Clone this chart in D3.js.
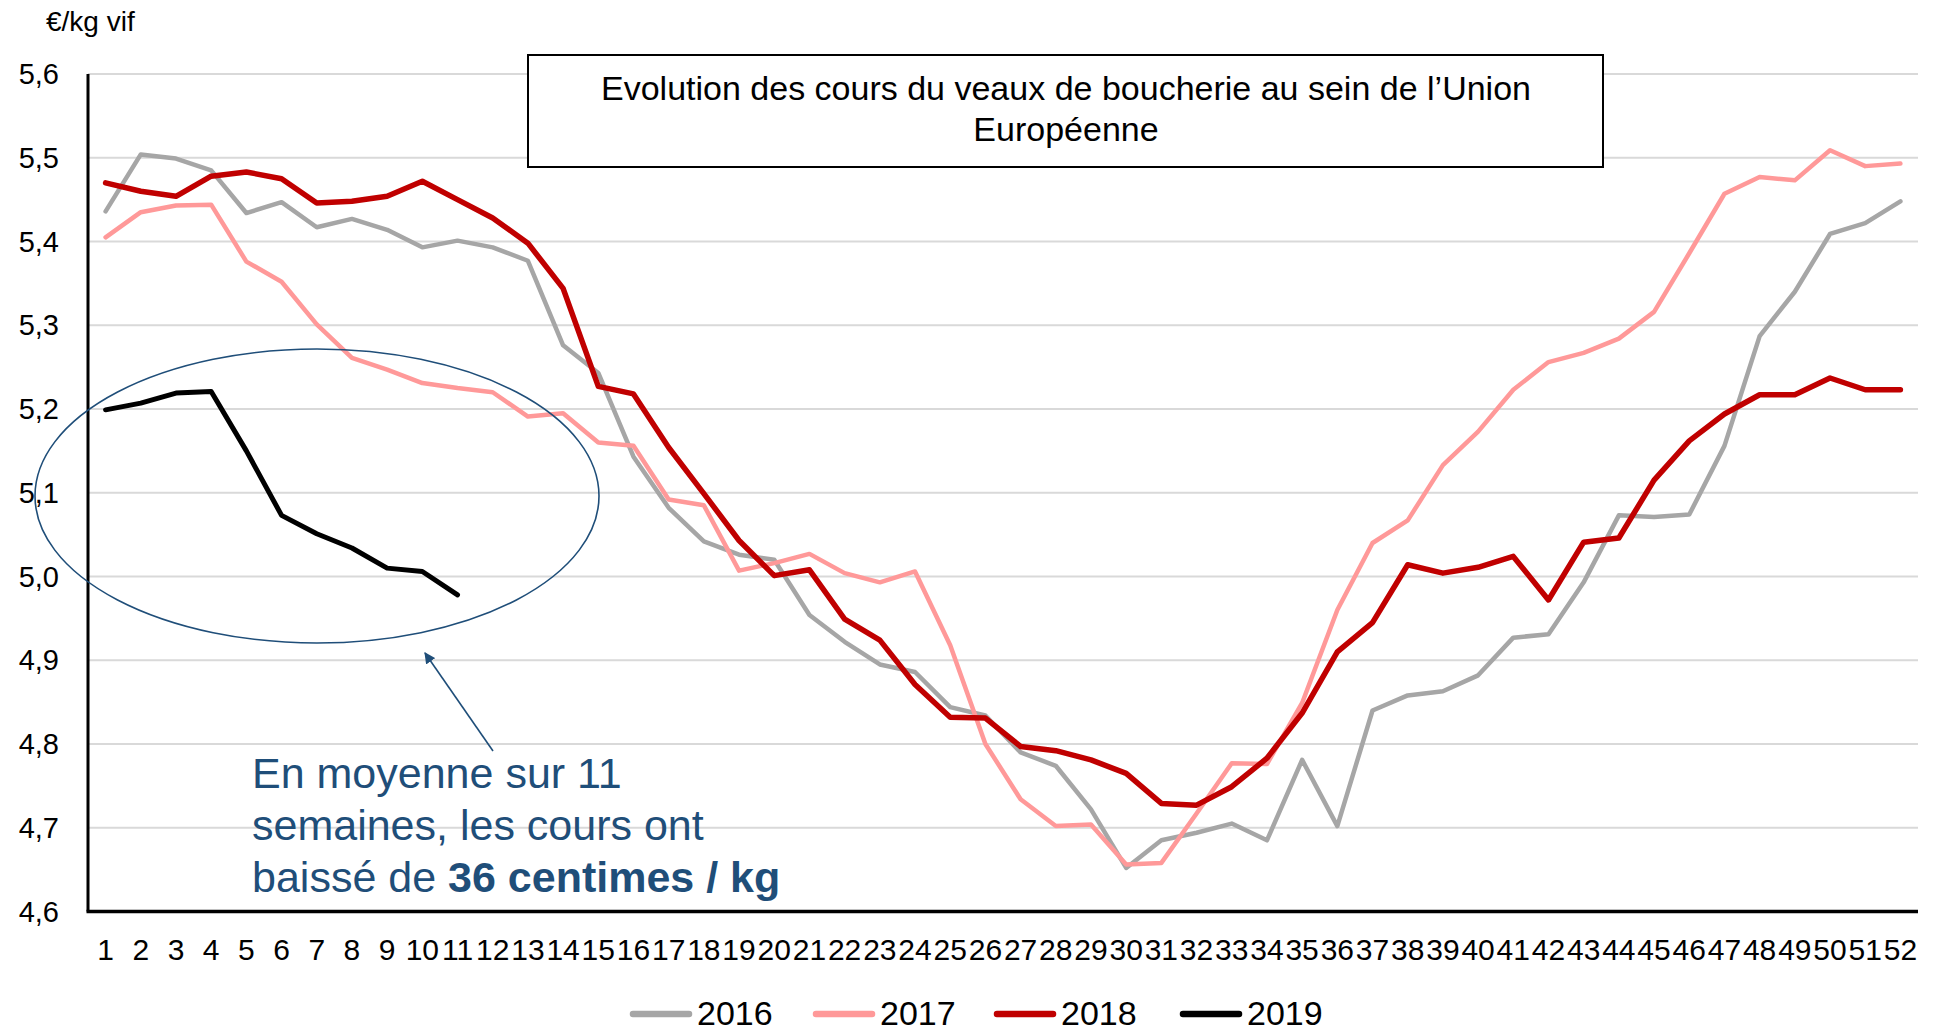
<!DOCTYPE html>
<html>
<head>
<meta charset="utf-8">
<script src="https://cdn.jsdelivr.net/npm/d3@7"></script>
<style>
  html, body { margin: 0; padding: 0; background: #fff; }
  svg { display: block; font-family: "Liberation Sans", Arial, sans-serif; }
</style>
</head>
<body>
<div id="chart"></div>
<script>
// Weekly prices, €/kg vif
const weeks = d3.range(1, 53);
const years = ['2016', '2017', '2018', '2019'];
const colors = ['#a6a6a6', '#ff9999', '#c00000', '#000000'];
const yTicks = [4.6, 4.7, 4.8, 4.9, 5.0, 5.1, 5.2, 5.3, 5.4, 5.5, 5.6];

const v2016 = [5.436, 5.504, 5.499, 5.485, 5.434, 5.447, 5.417, 5.427, 5.414, 5.393,
  5.401, 5.393, 5.377, 5.276, 5.243, 5.143, 5.082, 5.042, 5.026, 5.020,
  4.954, 4.922, 4.895, 4.886, 4.844, 4.834, 4.790, 4.774, 4.722, 4.652,
  4.685, 4.694, 4.705, 4.685, 4.781, 4.702, 4.840, 4.858, 4.863, 4.882,
  4.927, 4.931, 4.993, 5.073, 5.071, 5.074, 5.156, 5.287, 5.340, 5.409,
  5.422, 5.448];
const v2017 = [5.405, 5.435, 5.443, 5.444, 5.376, 5.352, 5.301, 5.261, 5.247, 5.231,
  5.225, 5.220, 5.191, 5.195, 5.160, 5.156, 5.092, 5.085, 5.007, 5.016,
  5.027, 5.004, 4.993, 5.006, 4.918, 4.800, 4.734, 4.702, 4.704, 4.656,
  4.658, 4.717, 4.777, 4.776, 4.849, 4.960, 5.040, 5.067, 5.133, 5.173,
  5.223, 5.256, 5.267, 5.284, 5.316, 5.386, 5.457, 5.477, 5.473, 5.509,
  5.490, 5.493];
const v2018 = [5.470, 5.460, 5.454, 5.478, 5.483, 5.475, 5.446, 5.448, 5.454, 5.472,
  5.450, 5.428, 5.398, 5.344, 5.227, 5.218, 5.154, 5.099, 5.043, 5.001,
  5.008, 4.949, 4.924, 4.871, 4.832, 4.831, 4.797, 4.792, 4.781, 4.765,
  4.729, 4.727, 4.749, 4.783, 4.837, 4.910, 4.945, 5.014, 5.004, 5.011,
  5.024, 4.972, 5.041, 5.046, 5.115, 5.162, 5.194, 5.217, 5.217, 5.237,
  5.223, 5.223];
const v2019 = [5.199, 5.207, 5.219, 5.221, 5.150, 5.073, 5.051, 5.034, 5.010, 5.006, 4.978];

const width = 1937;
const height = 1034;
const plotLeft = 88, plotRight = 1918, plotTop = 74, plotBottom = 911.5;

const svg = d3.select('#chart')
  .append('svg')
  .attr('width', width)
  .attr('height', height);

const x = d3.scalePoint().domain(weeks).range([plotLeft, plotRight]).padding(0.5);
const y = d3.scaleLinear().domain([4.6, 5.6]).range([plotBottom, plotTop]);

// Gridlines
svg.append('g')
  .selectAll('line')
  .data(yTicks.slice(1))
  .enter()
  .append('line')
  .attr('x1', plotLeft)
  .attr('x2', plotRight)
  .attr('y1', d => y(d))
  .attr('y2', d => y(d))
  .attr('stroke', '#d9d9d9')
  .attr('stroke-width', 2);

// Y labels
svg.append('g')
  .selectAll('text')
  .data(yTicks)
  .enter()
  .append('text')
  .attr('x', plotLeft - 29)
  .attr('y', d => y(d))
  .attr('dy', '0.35em')
  .attr('text-anchor', 'end')
  .attr('font-size', '29px')
  .attr('fill', '#000')
  .text(d => d3.format('.1f')(d).replace('.', ','));

svg.append('text')
  .attr('x', 46)
  .attr('y', 31)
  .attr('font-size', '28px')
  .text('€/kg vif');

// X labels
svg.append('g')
  .selectAll('text')
  .data(weeks)
  .enter()
  .append('text')
  .attr('x', d => x(d))
  .attr('y', 960)
  .attr('text-anchor', 'middle')
  .attr('font-size', '30px')
  .text(d => d);

// Title box
svg.append('rect')
  .attr('x', 528)
  .attr('y', 55)
  .attr('width', 1075)
  .attr('height', 112)
  .attr('fill', '#fff')
  .attr('stroke', '#000')
  .attr('stroke-width', 2);

svg.append('text')
  .attr('x', 1066)
  .attr('y', 100)
  .attr('text-anchor', 'middle')
  .attr('font-size', '34px')
  .text('Evolution des cours du veaux de boucherie au sein de l\u2019Union');

svg.append('text')
  .attr('x', 1066)
  .attr('y', 141)
  .attr('text-anchor', 'middle')
  .attr('font-size', '34px')
  .text('Européenne');

// Series lines
const series = [v2016, v2017, v2018, v2019];
const widths = [4.5, 4.5, 5.5, 5];

const line = d3.line()
  .x((d, i) => x(weeks[i]))
  .y(d => y(d));

series.forEach((vals, i) => {
  svg.append('path')
    .datum(vals)
    .attr('fill', 'none')
    .attr('stroke', colors[i])
    .attr('stroke-width', widths[i])
    .attr('stroke-linejoin', 'round')
    .attr('stroke-linecap', 'round')
    .attr('d', line);
});

// Axes
svg.append('line')
  .attr('x1', plotLeft).attr('x2', plotLeft)
  .attr('y1', plotTop).attr('y2', plotBottom)
  .attr('stroke', '#000')
  .attr('stroke-width', 3);

svg.append('line')
  .attr('x1', plotLeft - 1.5).attr('x2', plotRight)
  .attr('y1', plotBottom).attr('y2', plotBottom)
  .attr('stroke', '#000')
  .attr('stroke-width', 3.5);

// Annotation
const noteColor = '#1f4e79';

svg.append('ellipse')
  .attr('cx', 317)
  .attr('cy', 496)
  .attr('rx', 282)
  .attr('ry', 147)
  .attr('fill', 'none')
  .attr('stroke', noteColor)
  .attr('stroke-width', 1.6);

svg.append('defs')
  .append('marker')
  .attr('id', 'arrow')
  .attr('viewBox', '0 0 10 10')
  .attr('refX', 9)
  .attr('refY', 5)
  .attr('markerWidth', 7)
  .attr('markerHeight', 7)
  .attr('orient', 'auto')
  .append('path')
  .attr('d', 'M0,0 L10,5 L0,10 z')
  .attr('fill', noteColor);

svg.append('line')
  .attr('x1', 493).attr('y1', 751)
  .attr('x2', 425).attr('y2', 653)
  .attr('stroke', noteColor)
  .attr('stroke-width', 1.6)
  .attr('marker-end', 'url(#arrow)');

const note = svg.append('g')
  .attr('fill', noteColor)
  .attr('font-size', '43px');

note.append('text').attr('x', 252).attr('y', 788).text('En moyenne sur 11');
note.append('text').attr('x', 252).attr('y', 840).text('semaines, les cours ont');
const last = note.append('text').attr('x', 252).attr('y', 892);
last.append('tspan').text('baissé de ');
last.append('tspan').attr('font-weight', 'bold').text('36 centimes / kg');

// Legend
const legendX = [630, 813, 994, 1180];
const legend = svg.append('g');
years.forEach((yr, i) => {
  legend.append('line')
    .attr('x1', legendX[i] + 3)
    .attr('x2', legendX[i] + 59)
    .attr('y1', 1014)
    .attr('y2', 1014)
    .attr('stroke', colors[i])
    .attr('stroke-width', 6.5)
    .attr('stroke-linecap', 'round');
  legend.append('text')
    .attr('x', legendX[i] + 67)
    .attr('y', 1025)
    .attr('font-size', '34px')
    .text(yr);
});
</script>
</body>
</html>
